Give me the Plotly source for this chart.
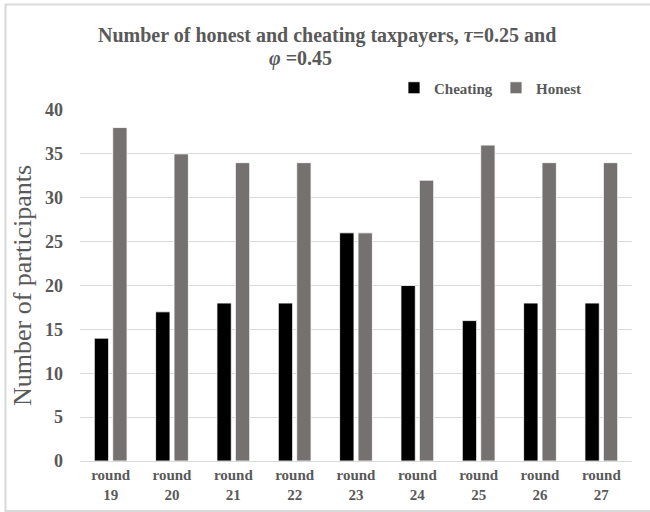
import plotly.graph_objects as go

# Data
rounds = ["round<br>19", "round<br>20", "round<br>21", "round<br>22", "round<br>23",
          "round<br>24", "round<br>25", "round<br>26", "round<br>27"]
cheating = [14, 17, 18, 18, 26, 20, 16, 18, 18]
honest = [38, 35, 34, 34, 26, 32, 36, 34, 34]

FONT = "Liberation Serif, Times New Roman, serif"
TEXT_GRAY = "#595959"
GRID = "#d9d9d9"

W, H = 650, 512
L, R, T, B = 80, 18, 110, 51

fig = go.Figure()
fig.add_trace(go.Bar(name="Cheating", x=rounds, y=cheating,
                     marker=dict(color="#000000", line=dict(color="#ffffff", width=0.8))))
fig.add_trace(go.Bar(name="Honest", x=rounds, y=honest,
                     marker=dict(color="#767171", line=dict(color="#ffffff", width=0.8))))

pw = W - L - R
ph = H - T - B


def px_x(p):
    return (p - L) / pw


def px_y(p):
    return (H - B - p) / ph


fig.update_layout(
    width=W, height=H,
    margin=dict(l=L, r=R, t=T, b=B, autoexpand=False),
    paper_bgcolor="white", plot_bgcolor="white",
    barmode="group", bargap=0.4, bargroupgap=0.22,
    font=dict(family=FONT, color=TEXT_GRAY),
    showlegend=True,
    legend=dict(orientation="h", x=px_x(394), y=px_y(88), xanchor="left", yanchor="middle",
                font=dict(family=FONT, size=15, color=TEXT_GRAY, weight="bold"),
                itemwidth=30, entrywidthmode="pixels", entrywidth=57,
                bgcolor="rgba(0,0,0,0)"),
    xaxis=dict(showgrid=False, showline=False, ticks="", ticklabelstandoff=3,
               tickfont=dict(family=FONT, size=15, color=TEXT_GRAY, weight="bold")),
    yaxis=dict(range=[0, 40], dtick=5, showgrid=True, gridcolor=GRID, gridwidth=1,
               zeroline=True, zerolinecolor=GRID, zerolinewidth=1,
               showline=False, ticks="", ticklabelstandoff=16,
               tickfont=dict(family=FONT, size=18, color=TEXT_GRAY, weight="bold"),
               title=dict(text="Number of participants", standoff=5,
                          font=dict(family=FONT, size=26, color=TEXT_GRAY))),
    annotations=[
        dict(text="<b>Number of honest and cheating taxpayers, <i>τ</i>=0.25 and</b>",
             xref="paper", yref="paper", x=px_x(327), y=px_y(35.5),
             xanchor="center", yanchor="middle", showarrow=False,
             font=dict(family=FONT, size=20, color=TEXT_GRAY)),
        dict(text="<b><i>φ</i> =0.45</b>",
             xref="paper", yref="paper", x=px_x(300), y=px_y(58.5),
             xanchor="center", yanchor="middle", showarrow=False,
             font=dict(family=FONT, size=20, color=TEXT_GRAY)),
    ],
    shapes=[
        dict(type="rect", xref="paper", yref="paper",
             x0=px_x(5.5), x1=px_x(660), y0=px_y(511), y1=px_y(4.5),
             line=dict(color=GRID, width=2), fillcolor="rgba(0,0,0,0)", layer="below"),
    ],
)

fig.write_html("out.html")
